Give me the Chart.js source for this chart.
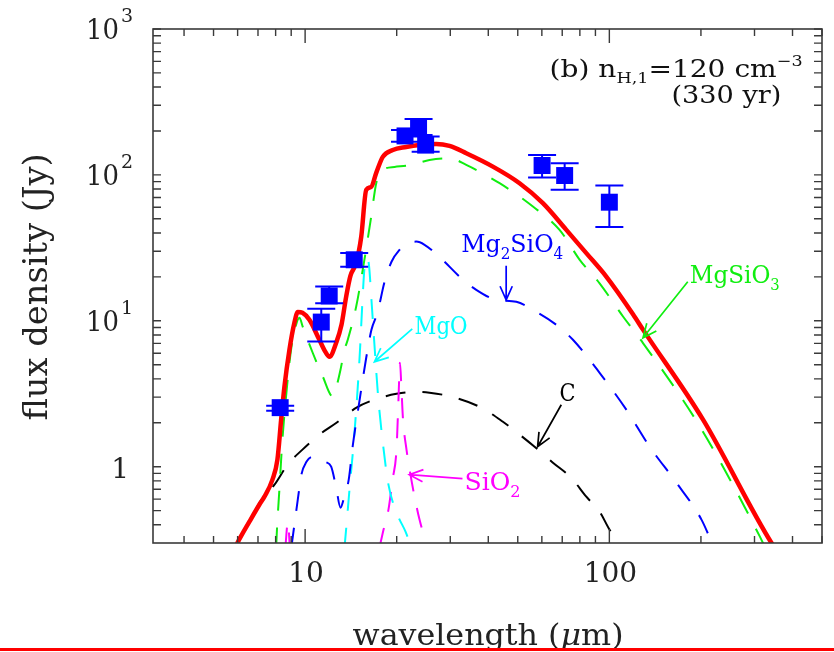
<!DOCTYPE html>
<html>
<head>
<meta charset="utf-8">
<title>SED model, n_H,1 = 120 cm^-3</title>
<script src="https://cdn.jsdelivr.net/npm/chart.js@4.4.1/dist/chart.umd.min.js"></script>
<style>
  html, body { margin: 0; padding: 0; background: #fff; }
  #wrap { width: 834px; height: 652px; }
</style>
</head>
<body>
<div id="wrap"><canvas id="sed" width="834" height="652"></canvas></div>
<script>
// wavelength in micron, flux density in Jy

// total model spectrum
const totalWave = [5.85, 5.99, 6.56, 7.07, 7.35, 7.81, 8.11, 8.34, 8.55, 8.88, 9.22, 9.46, 9.80, 10.33, 11.14, 11.66, 12.02, 12.65, 13.17, 13.64, 14.09, 14.72, 15.29, 15.88, 16.49, 17.13, 18.00, 19.42, 21.49, 23.77, 26.97, 29.83, 33.85, 41.42, 50.69, 60.47, 72.2, 84.0, 97.7, 119.6, 129.0, 203.2, 341.2, 349.8];
const totalFlux = [0.27, 0.300, 0.420, 0.549, 0.623, 0.815, 1.12, 2.10, 3.53, 6.33, 9.69, 11.5, 11.35, 10.16, 7.41, 6.13, 5.67, 7.07, 9.39, 14.6, 20.3, 24.97, 37.6, 78.9, 82.8, 103.2, 132.9, 148.3, 155.5, 160.5, 163.1, 158.0, 140.8, 114.0, 87.7, 64.0, 42.0, 29.1, 20.1, 11.1, 8.7, 2.10, 0.300, 0.279];

// MgSiO3 grains
const mgsio3Wave = [8.03, 8.08, 8.23, 8.42, 8.66, 8.99, 9.34, 9.58, 9.82, 10.59, 11.43, 12.33, 12.65, 13.07, 13.47, 13.81, 14.72, 15.47, 16.49, 17.13, 18.00, 19.67, 22.32, 25.64, 29.83, 33.85, 43.57, 56.07, 68.6, 79.9, 92.9, 110.9, 129.0, 198.2, 312.2, 321.8];
const mgsio3Flux = [0.279, 0.370, 0.696, 1.53, 3.06, 6.33, 9.39, 10.48, 9.11, 6.04, 4.15, 3.03, 3.48, 4.62, 6.33, 7.41, 12.53, 22.4, 51.8, 87.7, 108.2, 113.4, 117.1, 126.6, 130.1, 117.1, 87.7, 60.7, 42.0, 26.2, 18.07, 10.70, 7.04, 1.89, 0.333, 0.292];

// Mg2SiO4 grains
const mg2sio4Wave = [9.01, 9.22, 9.46, 9.72, 10.10, 10.57, 11.14, 11.66, 12.18, 12.65, 13.07, 13.37, 13.91, 14.34, 15.09, 15.88, 16.52, 17.29, 18.24, 19.23, 20.43, 21.54, 23.18, 24.69, 28.29, 32.18, 36.52, 42.50, 49.45, 57.54, 66.95, 75.92, 92.9, 113.7, 135.7, 166.1, 200.8, 218.7];
const mg2sio4Flux = [0.279, 0.40, 0.594, 0.882, 1.08, 1.17, 1.15, 1.08, 1.0, 0.718, 0.524, 0.594, 0.815, 1.39, 2.83, 5.58, 8.68, 11.34, 18.5, 25.4, 30.6, 33.7, 34.9, 33.2, 26.2, 20.1, 16.3, 13.93, 13.49, 11.52, 9.39, 7.41, 4.40, 2.46, 1.37, 0.777, 0.434, 0.292];

// MgO grains
const mgoWave = [13.47, 13.68, 13.99, 14.42, 14.80, 15.15, 15.44, 15.67, 15.91, 16.21, 16.52, 16.90, 17.36, 17.96, 18.79, 20.12, 21.38, 22.37];
const mgoFlux = [0.279, 0.40, 0.696, 1.41, 2.88, 6.33, 13.93, 23.0, 27.0, 24.2, 13.93, 6.85, 3.11, 1.53, 0.753, 0.469, 0.359, 0.279];

// SiO2 grains (null breaks the line)
const sio2Wave = [8.61, 8.78, 8.91, 12.0, 17.56, 18.10, 18.79, 19.38, 19.97, 20.27, 20.50, 20.74, 20.98, 21.54, 22.20, 22.89, 23.77, 25.06];
const sio2Flux = [0.279, 0.42, 0.279, null, 0.279, 0.370, 0.508, 0.815, 1.31, 2.88, 5.16, 3.37, 2.10, 1.31, 0.882, 0.623, 0.434, 0.292];

// carbon grains
const carbonWave = [5.85, 5.99, 6.56, 7.18, 7.93, 8.75, 9.80, 11.14, 12.68, 14.75, 16.90, 19.97, 22.89, 25.64, 30.28, 37.93, 44.57, 50.69, 56.79, 65.10, 75.0, 84.0, 92.9, 100.2, 109.8];
const carbonFlux = [0.27, 0.300, 0.420, 0.594, 0.753, 1.03, 1.31, 1.66, 2.00, 2.54, 2.88, 3.16, 3.26, 3.21, 3.02, 2.54, 2.04, 1.66, 1.37, 1.07, 0.838, 0.623, 0.492, 0.370, 0.292];

// observed photometry with error range
const obsWave = [8.28, 11.3, 12.0, 14.5, 21.3, 23.6, 24.9, 60.1, 71.3, 100];
const obsFlux = [2.54, 9.8, 14.8, 26.2, 185, 210, 160, 116, 99, 65];
const obsLow  = [2.42, 7.2, 13.2, 23.5, 169, 188, 144, 96, 79, 44];
const obsHigh = [2.62, 12.1, 17.2, 29.1, 203, 242, 183, 137, 120, 84.5];

// axis ticks
const xMajorTicks = [10, 100];
const xTickLabels = ['10', '100'];
const xMinorTicks = [4, 5, 6, 7, 8, 9, 20, 30, 40, 50, 60, 70, 80, 90, 200, 300, 400, 500];
const yMajorTicks = [1, 10, 100, 1000];
const yTickExps = ['', '1', '2', '3'];
const yMinorTicks = [0.4, 0.5, 0.6, 0.7, 0.8, 0.9, 2, 3, 4, 5, 6, 7, 8, 9, 20, 30, 40, 50, 60, 70, 80, 90, 200, 300, 400, 500, 600, 700, 800, 900];

const SERIF = '"DejaVu Serif", "Liberation Serif", serif';
const BLUE = '#0000ff', GREEN = '#10ee10', CYAN = '#00ffff', MAGENTA = '#ff00ff', RED = '#ff0000';

// labels: parts are [text, size, dy, italic]; anchor and arrow are in data units
const notes = [
  { parts: [['Mg', 25, 0], ['2', 16, 7], ['SiO', 25, 0], ['4', 16, 7]], at: [32.6, 29.7], w: 102, color: BLUE,
    arrow: [[45.8, 23.8], [45.8, 13.9]] },
  { parts: [['MgSiO', 25, 0], ['3', 16, 7]], at: [183.8, 18.2], w: 90, color: GREEN,
    arrow: [[181, 18.5], [129, 7.65]] },
  { parts: [['MgO', 25, 0]], at: [22.9, 8.15], w: 53, color: CYAN,
    arrow: [[22.5, 8.81], [16.9, 5.24]] },
  { parts: [['C', 25, 0]], at: [68.6, 2.80], w: 16, color: '#000',
    arrow: [[69.5, 2.66], [58.1, 1.37]] },
  { parts: [['SiO', 25, 0], ['2', 16, 7]], at: [33.4, 0.696], w: 56, color: MAGENTA,
    arrow: [[32.9, 0.828], [22.0, 0.882]] },
  { parts: [['(b) ', 24, 0], ['n', 24, 0], ['H,1', 15, 6], ['=120 cm', 24, 0], ['\u22123', 15, -11]], at: [63.6, 469], w: 253, color: '#111' },
  { parts: [['(330 yr)', 24, 0]], at: [160, 311], w: 110, color: '#111' }
];

function pairs(xs, ys) {
  return xs.map((v, i) => ({ x: v, y: ys[i] }));
}

function fontOf(p) {
  return (p[3] ? 'italic ' : '') + p[1] + 'px ' + SERIF;
}

function richWidth(ctx, parts) {
  let w = 0;
  for (const p of parts) {
    ctx.font = fontOf(p);
    w += ctx.measureText(p[0]).width;
  }
  return w;
}

// draws text pieces left to right, stretched horizontally to width w
function drawRich(ctx, x, y, parts, color, w) {
  const k = w ? w / richWidth(ctx, parts) : 1;
  ctx.save();
  ctx.translate(x, y);
  ctx.scale(k, 1);
  ctx.fillStyle = color;
  ctx.textAlign = 'left';
  ctx.textBaseline = 'alphabetic';
  let cx = 0;
  for (const p of parts) {
    ctx.font = fontOf(p);
    ctx.fillText(p[0], cx, p[2]);
    cx += ctx.measureText(p[0]).width;
  }
  ctx.restore();
}

function drawArrow(ctx, x0, y0, x1, y1, color) {
  const a = Math.atan2(y1 - y0, x1 - x0), L = 15, s = 0.42;
  ctx.save();
  ctx.strokeStyle = color;
  ctx.lineWidth = 1.7;
  ctx.beginPath();
  ctx.moveTo(x0, y0);
  ctx.lineTo(x1, y1);
  ctx.moveTo(x1 - L * Math.cos(a - s), y1 - L * Math.sin(a - s));
  ctx.lineTo(x1, y1);
  ctx.lineTo(x1 - L * Math.cos(a + s), y1 - L * Math.sin(a + s));
  ctx.stroke();
  ctx.restore();
}

const errorBars = {
  id: 'errorBars',
  afterDatasetsDraw(chart) {
    const { ctx, scales: { x, y } } = chart;
    ctx.save();
    ctx.strokeStyle = BLUE;
    ctx.lineWidth = 2;
    ctx.beginPath();
    obsWave.forEach((w, i) => {
      const px = x.getPixelForValue(w);
      const lo = y.getPixelForValue(obsLow[i]);
      const hi = y.getPixelForValue(obsHigh[i]);
      ctx.moveTo(px, lo); ctx.lineTo(px, hi);
      ctx.moveTo(px - 14, lo); ctx.lineTo(px + 14, lo);
      ctx.moveTo(px - 14, hi); ctx.lineTo(px + 14, hi);
    });
    ctx.stroke();
    ctx.restore();
  }
};

// box, inward ticks, tick labels, titles and labels
const frame = {
  id: 'frame',
  afterDraw(chart) {
    const { ctx, chartArea: a, scales: { x, y } } = chart;
    ctx.save();
    ctx.strokeStyle = '#3a3a3a';
    ctx.lineWidth = 1.6;
    ctx.strokeRect(a.left, a.top, a.right - a.left, a.bottom - a.top);

    ctx.lineWidth = 1.4;
    ctx.beginPath();
    const xt = (v, len) => {
      const p = x.getPixelForValue(v);
      ctx.moveTo(p, a.bottom); ctx.lineTo(p, a.bottom - len);
      ctx.moveTo(p, a.top); ctx.lineTo(p, a.top + len);
    };
    const yt = (v, len) => {
      const p = y.getPixelForValue(v);
      ctx.moveTo(a.left, p); ctx.lineTo(a.left + len, p);
      ctx.moveTo(a.right, p); ctx.lineTo(a.right - len, p);
    };
    xMinorTicks.forEach(v => xt(v, 7));
    xMajorTicks.forEach(v => xt(v, 14));
    yMinorTicks.forEach(v => yt(v, 8));
    yMajorTicks.forEach(v => yt(v, 8));
    ctx.stroke();

    // tick labels
    xMajorTicks.forEach((v, i) => {
      const p = x.getPixelForValue(v);
      ctx.font = '28px ' + SERIF;
      const w = ctx.measureText(xTickLabels[i]).width;
      drawRich(ctx, p - w / 2 + 1, a.bottom + 39, [[xTickLabels[i], 28, 0]], '#222');
    });
    yMajorTicks.forEach((v, i) => {
      const p = y.getPixelForValue(v);
      if (yTickExps[i] === '') {
        ctx.font = '28px ' + SERIF;
        const w = ctx.measureText('1').width;
        drawRich(ctx, a.left - 24 - w, p + 11, [['1', 28, 0]], '#222');
      } else {
        drawRich(ctx, a.left - 67, p + 10, [['10', 28, 0]], '#222', 33);
        drawRich(ctx, a.left - 32, p - 7, [[yTickExps[i], 19, 0]], '#222');
      }
    });

    // axis titles
    const xParts = [['wavelength (', 29, 0], ['\u03bc', 29, 0, true], ['m)', 29, 0]];
    const xw = 271;
    drawRich(ctx, 488 - xw / 2, 645, xParts, '#222', xw);

    const yt1 = 'flux density (Jy)';
    ctx.fillStyle = '#222';
    ctx.textBaseline = 'alphabetic';
    ctx.textAlign = 'center';
    ctx.font = '100px ' + SERIF;
    const fs = 100 * 267 / ctx.measureText(yt1).width;
    ctx.save();
    ctx.translate(47, 287);
    ctx.rotate(-Math.PI / 2);
    ctx.font = fs.toFixed(1) + 'px ' + SERIF;
    ctx.fillText(yt1, 0, 0);
    ctx.restore();

    // component labels and arrows
    notes.forEach(n => {
      drawRich(ctx, x.getPixelForValue(n.at[0]), y.getPixelForValue(n.at[1]), n.parts, n.color, n.w);
      if (n.arrow) {
        drawArrow(ctx,
          x.getPixelForValue(n.arrow[0][0]), y.getPixelForValue(n.arrow[0][1]),
          x.getPixelForValue(n.arrow[1][0]), y.getPixelForValue(n.arrow[1][1]), n.color);
      }
    });

    // red rule along the bottom of the figure
    ctx.fillStyle = RED;
    ctx.fillRect(0, 648, chart.width, 3);
    ctx.restore();
  }
};

function curve(label, xs, ys, color, width, dash, order) {
  return {
    label,
    data: pairs(xs, ys),
    showLine: true,
    borderColor: color,
    borderWidth: width,
    borderDash: dash,
    pointRadius: 0,
    cubicInterpolationMode: 'monotone',
    spanGaps: false,
    clip: 0,
    order
  };
}

const dash = [20, 17];

new Chart(document.getElementById('sed'), {
  type: 'scatter',
  data: {
    datasets: [
      {
        label: 'observed',
        data: pairs(obsWave, obsFlux),
        pointStyle: 'rect',
        pointRadius: 12,
        backgroundColor: BLUE,
        borderWidth: 0,
        clip: 0,
        order: 0
      },
      curve('total', totalWave, totalFlux, RED, 4.5, [], 1),
      curve('MgSiO3', mgsio3Wave, mgsio3Flux, GREEN, 2, dash, 2),
      curve('Mg2SiO4', mg2sio4Wave, mg2sio4Flux, BLUE, 2, dash, 2),
      curve('MgO', mgoWave, mgoFlux, CYAN, 2, dash, 2),
      curve('SiO2', sio2Wave, sio2Flux, MAGENTA, 2, dash, 2),
      curve('C', carbonWave, carbonFlux, '#000', 2, dash, 2)
    ]
  },
  options: {
    responsive: false,
    animation: false,
    events: [],
    layout: { padding: { left: 153, top: 29, right: 11, bottom: 109 } },
    plugins: { legend: { display: false }, tooltip: { enabled: false } },
    scales: {
      x: { type: 'logarithmic', min: Math.pow(10, 0.5), max: 500, display: false },
      y: { type: 'logarithmic', min: 0.3, max: 1000, display: false }
    }
  },
  plugins: [errorBars, frame]
});
</script>
</body>
</html>
